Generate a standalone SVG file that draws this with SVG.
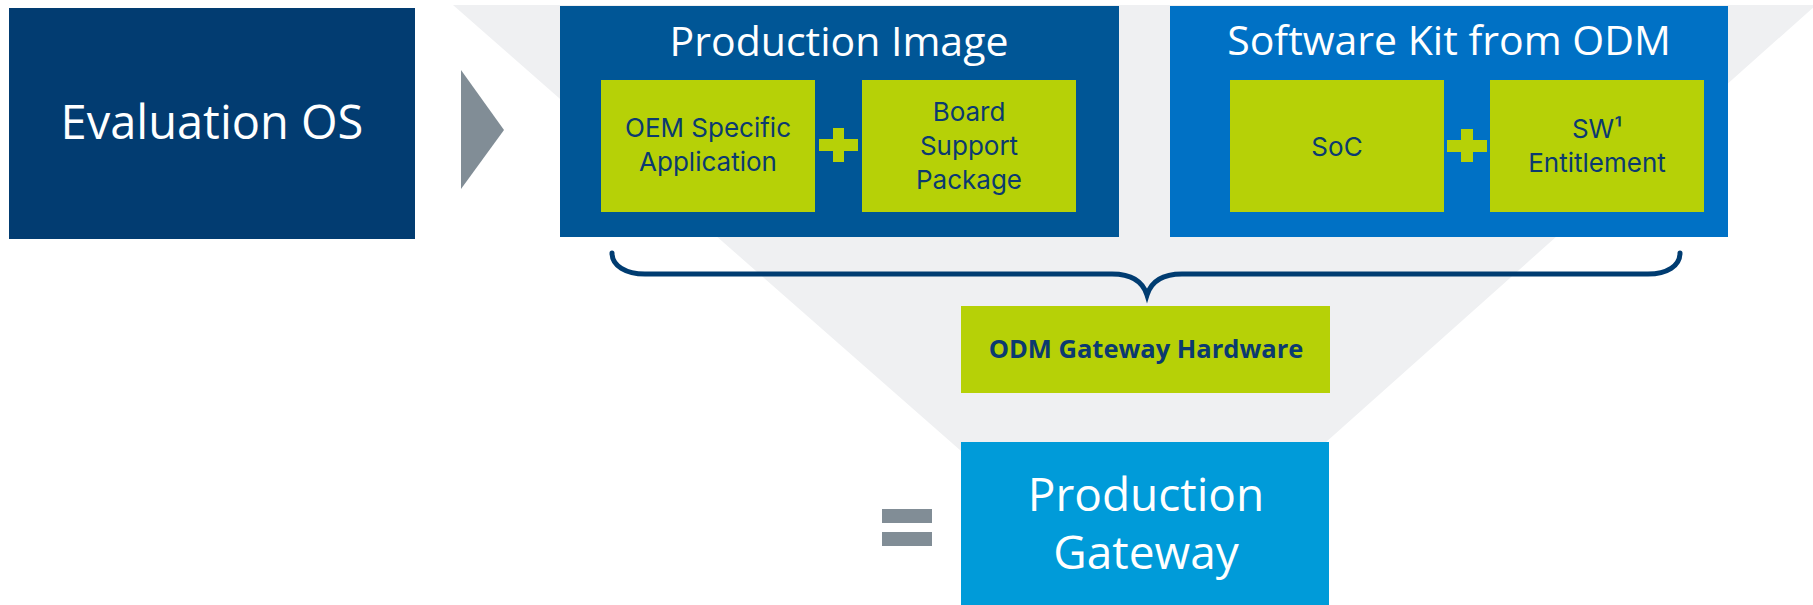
<svg xmlns="http://www.w3.org/2000/svg" width="1813" height="605" viewBox="0 0 1813 605">
<style>
text{font-family:"Open Sans","Noto Sans","Liberation Sans",sans-serif;text-anchor:middle}
.w{fill:#ffffff}
.n{fill:#0b3a70}
.g{fill:#b6d107}
.big{font-size:47px}
.ttl{font-size:41px}
.sm{font-family:Inter,"Open Sans","Liberation Sans",sans-serif;font-size:26px}
.op{fill:#818d96}
</style>
<rect width="1813" height="605" fill="#ffffff"/>
<polygon id="funnel" points="453,5 1816,5 1140,608" fill="#eff0f2"/>
<g id="eval-os">
<rect x="9" y="8" width="406" height="231" fill="#023c71"/>
<text class="w big" x="212" y="139">Evaluation OS</text>
</g>
<g id="arrow">
<polygon class="op" points="461,70 504,130 461,189"/>
</g>
<g id="production-image">
<rect x="560" y="6" width="559" height="231" fill="#005696"/>
<text class="w ttl" x="839" y="56">Production Image</text>
<g id="oem-app">
<rect class="g" x="601" y="80" width="214" height="132"/>
<text class="n sm" x="708" y="137">OEM Specific</text>
<text class="n sm" x="708" y="171">Application</text>
</g>
<g id="plus1">
<rect class="g" x="819" y="139" width="39" height="12"/>
<rect class="g" x="833" y="128" width="11" height="34"/>
</g>
<g id="bsp">
<rect class="g" x="862" y="80" width="214" height="132"/>
<text class="n sm" x="969" y="121">Board</text>
<text class="n sm" x="969" y="155">Support</text>
<text class="n sm" x="969" y="189">Package</text>
</g>
</g>
<g id="software-kit">
<rect x="1170" y="6" width="558" height="231" fill="#0071c5"/>
<text class="w ttl" x="1449" y="55">Software Kit from ODM</text>
<g id="soc">
<rect class="g" x="1230" y="80" width="214" height="132"/>
<text class="n sm" x="1337" y="156">SoC</text>
</g>
<g id="plus2">
<rect class="g" x="1447" y="140" width="40" height="12"/>
<rect class="g" x="1461" y="129" width="12" height="33"/>
</g>
<g id="sw-entitlement">
<rect class="g" x="1490" y="80" width="214" height="132"/>
<text class="n sm" x="1597" y="138">SW¹</text>
<text class="n sm" x="1597" y="172">Entitlement</text>
</g>
</g>
<g id="connectors">
<path d="M612,253 C612,266 626,274 645,274 L1112,274 C1132,274 1143,282 1147,295 C1151,282 1162,274 1182,274 L1648,274 C1667,274 1680,266 1680,253" fill="none" stroke="#003c71" stroke-width="5" stroke-linecap="round"/>
</g>
<g id="odm-hardware">
<rect class="g" x="961" y="306" width="369" height="87"/>
<text class="n" x="1146" y="358" style="font-size:25.5px;font-weight:bold">ODM Gateway Hardware</text>
</g>
<g id="equals">
<rect class="op" x="882" y="509" width="50" height="14"/>
<rect class="op" x="882" y="532" width="50" height="14"/>
</g>
<g id="production-gateway">
<rect x="961" y="442" width="368" height="163" fill="#009bd9"/>
<text class="w" x="1146" y="511" style="font-size:46px">Production</text>
<text class="w" x="1146" y="569" style="font-size:46px">Gateway</text>
</g>
</svg>
